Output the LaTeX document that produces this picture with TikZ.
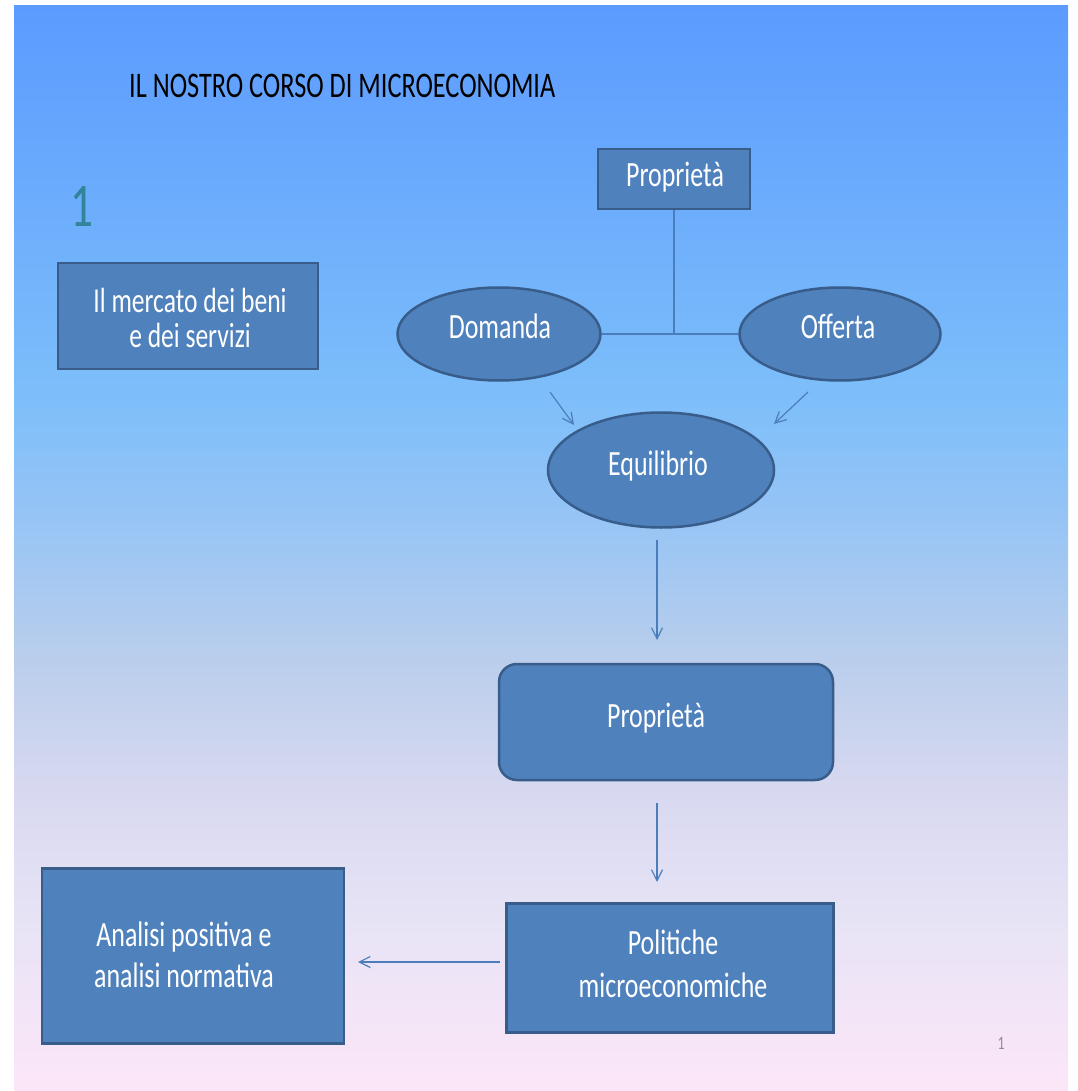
\documentclass[tikz,border=0pt]{standalone}
\usepackage{fontspec}
\setmainfont[FakeStretch=0.73]{Carlito}
\usetikzlibrary{arrows.meta,shapes.geometric}
\definecolor{bgtop}{RGB}{91,155,255}
\definecolor{bgA}{RGB}{125,190,250}
\definecolor{bgB}{RGB}{150,196,245}
\definecolor{bgC}{RGB}{185,206,236}
\definecolor{bgD}{RGB}{215,216,240}
\definecolor{bgE}{RGB}{232,228,246}
\definecolor{bgbot}{RGB}{252,230,248}
\definecolor{boxfill}{RGB}{79,129,189}
\definecolor{boxline}{RGB}{56,93,138}
\definecolor{conn}{RGB}{74,126,187}
\definecolor{teal}{RGB}{49,133,155}
\definecolor{pgnum}{RGB}{140,140,150}
\pgfdeclareverticalshading{slidebg}{100bp}{color(0bp)=(bgbot); color(25bp)=(bgbot); color(32.5bp)=(bgE); color(39bp)=(bgD); color(45bp)=(bgC); color(51.5bp)=(bgB); color(57bp)=(bgA); color(75bp)=(bgtop); color(100bp)=(bgtop)}
\tikzset{
  shp/.style={draw=boxline, line width=2.5pt, fill=boxfill, inner sep=0pt},
  rbox/.style={shp, rectangle},
  ebox/.style={shp, ellipse},
  lbl/.style={text=white, inner sep=0pt, align=center, font=\fontsize{35.5}{43}\selectfont},
  conline/.style={draw=conn, line width=1.2pt},
  arr/.style={conline, -{Straight Barb[length=11pt,width=11pt,line width=1.2pt]}},
}
\begin{document}
\begin{tikzpicture}[x=1pt,y=-1pt]
\useasboundingbox (0,0) rectangle (1077,1091);
\fill[white] (0,0) rectangle (1077,1091);
\shade[shading=slidebg] (14,6) rectangle (1068,1091);

\node[anchor=base west, font=\fontsize{36}{40}\selectfont, inner sep=0pt] (title) at (129,98) {IL NOSTRO CORSO DI MICROECONOMIA};
\node[text=teal, font=\fontsize{62}{62}\selectfont, inner sep=0pt, anchor=base] (num) at (82,226) {1};

\node[rbox, minimum width=260, minimum height=106] (merc) at (188,316) {};
\node[rbox, minimum width=152, minimum height=60] (prop1) at (674,179) {};
\node[ebox, minimum width=203, minimum height=93] (dom) at (499,334) {};
\node[ebox, minimum width=201, minimum height=93] (off) at (840,334) {};
\node[ebox, minimum width=226, minimum height=115] (equ) at (661,470) {};
\node[rbox, rounded corners=18pt, minimum width=334, minimum height=116] (prop2) at (666,722) {};
\node[rbox, minimum width=327, minimum height=129] (pol) at (670,968) {};
\node[rbox, minimum width=302, minimum height=175] (ana) at (193,956) {};

\node[lbl, font=\fontsize{35}{35}\selectfont] (merct) at (190,318) {Il mercato dei beni\\e dei servizi};
\node[lbl, anchor=base] (prop1t) at (675,187) {Proprietà};
\node[lbl, anchor=base] (domt) at (500,338) {Domanda};
\node[lbl, anchor=base] (offt) at (838,338) {Offerta};
\node[lbl, anchor=base] (equt) at (658,475) {Equilibrio};
\node[lbl, anchor=base] (prop2t) at (656,727) {Proprietà};
\node[lbl] (polt) at (673,964) {Politiche\\microeconomiche};
\node[lbl, font=\fontsize{35.5}{41}\selectfont] (anat) at (184,955) {Analisi positiva e\\analisi normativa};

\node[text=pgnum, font=\fontsize{19}{19}\selectfont, inner sep=0pt] (page) at (1001,1043) {1};

\draw[conline] (prop1.south) -- (prop1.south |- dom.east);
\draw[conline] (dom.east) -- (off.west);

\coordinate (d1) at (550,392);
\coordinate (d2) at (574,425);
\coordinate (o1) at (808,392);
\coordinate (o2) at (774,424);
\coordinate (e1) at (657,540);
\coordinate (e2) at (657,640);
\coordinate (p1) at (657,803);
\coordinate (p2) at (657,882);
\coordinate (a1) at (500,962);
\coordinate (a2) at (358,962);
\draw[arr] (d1) -- (d2);
\draw[arr] (o1) -- (o2);
\draw[arr] (e1) -- (e2);
\draw[arr] (p1) -- (p2);
\draw[arr] (a1) -- (a2);
\end{tikzpicture}
\end{document}
